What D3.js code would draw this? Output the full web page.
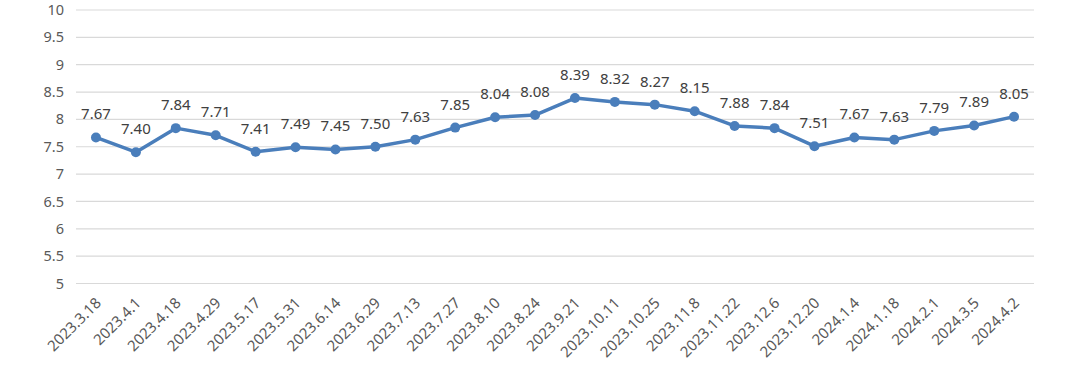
<!DOCTYPE html>
<html>
<head>
<meta charset="utf-8">
<script src="https://cdn.jsdelivr.net/npm/d3@7"></script>
<style>
  body { margin: 0; background: #fff; }
  text { font-family: "Noto Sans", "Open Sans", sans-serif; }
</style>
</head>
<body>
<svg id="chart"></svg>
<script>
const dates = ['2023.3.18', '2023.4.1', '2023.4.18', '2023.4.29', '2023.5.17', '2023.5.31',
  '2023.6.14', '2023.6.29', '2023.7.13', '2023.7.27', '2023.8.10', '2023.8.24', '2023.9.21',
  '2023.10.11', '2023.10.25', '2023.11.8', '2023.11.22', '2023.12.6', '2023.12.20',
  '2024.1.4', '2024.1.18', '2024.2.1', '2024.3.5', '2024.4.2'];
const values = [7.67, 7.40, 7.84, 7.71, 7.41, 7.49, 7.45, 7.50, 7.63, 7.85, 8.04, 8.08, 8.39,
  8.32, 8.27, 8.15, 7.88, 7.84, 7.51, 7.67, 7.63, 7.79, 7.89, 8.05];
const yTicks = [5, 5.5, 6, 6.5, 7, 7.5, 8, 8.5, 9, 9.5, 10];

const width = 1080;
const height = 371;
const plotLeft = 76, plotRight = 1034, plotTop = 10, plotBottom = 283.5;

const chart = d3.select('#chart')
  .attr('width', width)
  .attr('height', height);

const x = d3.scaleBand()
  .domain(dates)
  .range([plotLeft, plotRight]);

const y = d3.scaleLinear()
  .domain([5, 10])
  .range([plotBottom, plotTop]);

// gridlines
chart.append('g')
  .selectAll('line')
  .data(yTicks)
  .enter().append('line')
    .attr('x1', plotLeft)
    .attr('x2', plotRight)
    .attr('y1', d => y(d))
    .attr('y2', d => y(d))
    .attr('stroke', '#d9d9d9')
    .attr('stroke-width', 1.2);

// y labels
chart.append('g')
  .selectAll('text')
  .data(yTicks)
  .enter().append('text')
    .attr('x', 64)
    .attr('y', d => y(d))
    .attr('dy', '0.35em')
    .attr('text-anchor', 'end')
    .attr('font-size', 14.5)
    .attr('fill', '#595959')
    .text(d => d);

// x labels
chart.append('g')
  .selectAll('text')
  .data(dates)
  .enter().append('text')
    .attr('text-anchor', 'end')
    .attr('font-size', 15)
    .attr('fill', '#595959')
    .attr('transform', d => `translate(${x(d) + x.bandwidth() / 2 + 6}, 304) rotate(-45)`)
    .text(d => d);

const cx = (d, i) => x(dates[i]) + x.bandwidth() / 2;

const line = d3.line()
  .x((d, i) => cx(d, i))
  .y(d => y(d));

chart.append('path')
  .datum(values)
  .attr('d', line)
  .attr('fill', 'none')
  .attr('stroke', '#4a7ebb')
  .attr('stroke-width', 3.5)
  .attr('stroke-linejoin', 'round');

chart.append('g')
  .selectAll('circle')
  .data(values)
  .enter().append('circle')
    .attr('cx', cx)
    .attr('cy', d => y(d))
    .attr('r', 5)
    .attr('fill', '#4a7ebb');

chart.append('g')
  .selectAll('text')
  .data(values)
  .enter().append('text')
    .attr('x', cx)
    .attr('y', d => y(d) - 18)
    .attr('text-anchor', 'middle')
    .attr('font-size', 15)
    .attr('fill', '#404040')
    .text(d => d.toFixed(2));
</script>
</body>
</html>
